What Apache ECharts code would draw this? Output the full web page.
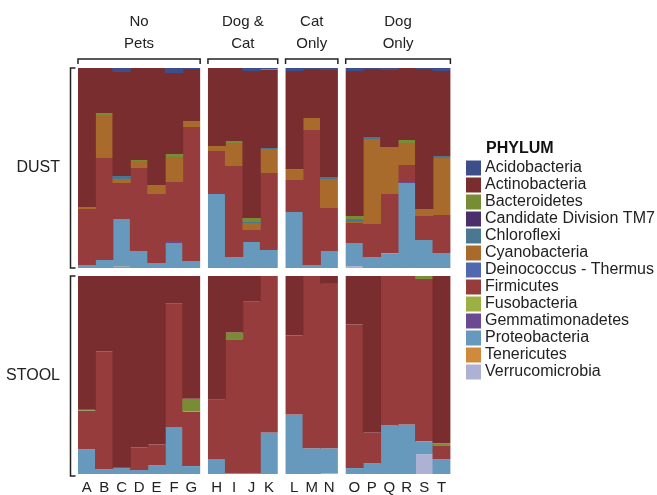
<!DOCTYPE html>
<html><head><meta charset="utf-8">
<script src="https://cdn.jsdelivr.net/npm/echarts@6/dist/echarts.min.js"></script>
<style>html,body{margin:0;padding:0;background:#fff}#c{width:657px;height:495px}</style>
</head><body><div id="c"></div>
<script>
// ---- data ----
const samples = ['A','B','C','D','E','F','G','H','I','J','K','L','M','N','O','P','Q','R','S','T'];
const groupNames = ['No\nPets','Dog &\nCat','Cat\nOnly','Dog\nOnly'];
const groupSizes = [7,4,3,6];
const rowNames = ['DUST','STOOL'];
const phyla = ['Acidobacteria','Actinobacteria','Bacteroidetes','Candidate Division TM7','Chloroflexi','Cyanobacteria','Deinococcus - Thermus','Firmicutes','Fusobacteria','Gemmatimonadetes','Proteobacteria','Tenericutes','Verrucomicrobia'];
const phylaColors = ['#3d4f8a','#7a2d2f','#788c35','#4b2f6b','#4a7893','#a96b2b','#5168b0','#963c3d','#9cb043','#6a4b90','#6699bb','#d08a3b','#adb1d4'];

// DUST (% per sample A..T)
const dustAcidobacteria   = [0,0,2,0,0,2.5,0.5, 0,0,1.5,0.7, 1.5,0.5,1, 1.5,0.5,1,0,0.5,1.5];
const dustActinobacteria  = [69.5,22.5,52,46,58.5,40.5,26, 39,36.5,73.5,39.3, 49,24.5,53.5, 72.5,34,38.5,36,70,42.5];
const dustBacteroidetes   = [0,1,0,0.5,0,1.5,0, 0,1,2,0, 0.5,0,0, 1.5,0,0,1.5,0,0];
const dustTM7             = [0,0,0,0,0,0,0, 0,0,0,0, 0,0,0, 0,0,0,0,0,0];
const dustChloroflexi     = [0,0,1.5,0,0,0,0, 0,0,0.5,0.5, 0,0,1, 1.5,1,0,0,0,1];
const dustCyanobacteria   = [1,21.5,2,3.5,4.5,12.5,3, 2.5,11.5,3.5,12, 5,6,14.5, 0.5,42.5,23.5,11,3.5,28.5];
const dustDeinococcus     = [0,0,0,0,0,0,0, 0,0,0,0, 0,0,0, 0,0,0,0,0,0];
const dustFirmicutes      = [28,51,18,41.5,34.5,29.5,67, 21.5,45.5,6,38.5, 16,67.5,21.5, 10,16.5,29.5,8.5,12,19];
const dustFusobacteria    = [0,0,0,0,0,0,0, 0,0,0,0, 0,0,0, 0,0,0.5,0,0,0];
const dustGemmatimonadetes= [0,0,0,0,0,1,0, 0,0,0,0, 0,0,0, 0,0,0,0.5,0,0];
const dustProteobacteria  = [1.5,4,23.8,8.5,2.5,12.5,3.5, 37,5.5,13,9, 28,1.5,8.5, 11.5,5.5,7,42.5,14,7.5];
const dustTenericutes     = [0,0,0.7,0,0,0,0, 0,0,0,0, 0,0,0, 0,0,0,0,0,0];
const dustVerrucomicrobia = [0,0,0,0,0,0,0, 0,0,0,0, 0,0,0, 1,0,0,0,0,0];

// STOOL
const stoolAcidobacteria   = [0,0,0,0,0,0,0, 0,0,0,0, 0,0,0, 0,0,0,0,0,0];
const stoolActinobacteria  = [67.5,38,96.5,86.5,85,14,62, 62.5,28.5,13,0, 30,0,4, 24.5,79,0,0,0,84.5];
const stoolBacteroidetes   = [0.5,0,0,0,0,0,6.5, 0,3.5,0,0, 0,0,0, 0,0,0,0,1.5,1];
const stoolTM7             = [0,0,0,0,0,0,0, 0,0,0,0, 0,0,0, 0,0,0,0,0,0];
const stoolChloroflexi     = [0,0,0,0,0,0,0, 0,0,0,0, 0,0,0, 0,0,0,0,0,0];
const stoolCyanobacteria   = [0,0,0,0,0,0,0, 0,0,0,0, 0,0,0, 0,0,0,0,0,0];
const stoolDeinococcus     = [0,0,0,0,0,0,0, 0,0,0,0, 0,0,0, 0,0,0,0,0,0];
const stoolFirmicutes      = [19.5,59.5,0.5,11.5,10.5,62.5,27.5, 30,67.5,86.5,79, 40,87,83, 72.5,15.5,75.5,75,82,7];
const stoolFusobacteria    = [0,0,0,0,0,0,0, 0,0,0,0, 0,0,0, 0,0,0,0,0,0];
const stoolGemmatimonadetes= [0,0,0,0,0,0,0, 0,0,0,0, 0,0,0, 0,0,0,0,0,0];
const stoolProteobacteria  = [12.5,2.5,3,2,4.5,23.5,4, 7.5,0.5,0.5,21, 30,13,12.5, 3,5.5,24.5,25,6.5,7.5];
const stoolTenericutes     = [0,0,0,0,0,0,0, 0,0,0,0, 0,0,0, 0,0,0,0,0,0];
const stoolVerrucomicrobia = [0,0,0,0,0,0,0, 0,0,0,0, 0,0,0.5, 0,0,0,0,10,0];

const dustRows = [dustAcidobacteria,dustActinobacteria,dustBacteroidetes,dustTM7,dustChloroflexi,dustCyanobacteria,dustDeinococcus,dustFirmicutes,dustFusobacteria,dustGemmatimonadetes,dustProteobacteria,dustTenericutes,dustVerrucomicrobia];
const stoolRows = [stoolAcidobacteria,stoolActinobacteria,stoolBacteroidetes,stoolTM7,stoolChloroflexi,stoolCyanobacteria,stoolDeinococcus,stoolFirmicutes,stoolFusobacteria,stoolGemmatimonadetes,stoolProteobacteria,stoolTenericutes,stoolVerrucomicrobia];
const rowData = [dustRows, stoolRows];

// ---- layout ----
const FONT = 'Liberation Sans, Arial, Helvetica, sans-serif';
const left0 = 78, barW = 17.45, colGap = 7.8;
const rowTops = [68, 276], rowH = 200;
const colLeft = [], colW = [];
{ let x = left0; groupSizes.forEach(n => { colLeft.push(x); colW.push(n*barW); x += n*barW + colGap; }); }
const starts = []; { let s = 0; groupSizes.forEach(n => { starts.push(s); s += n; }); }

const grids = [], xAxes = [], yAxes = [], series = [];
let gi = 0;
for (let r = 0; r < 2; r++) {
  for (let c = 0; c < 4; c++) {
    grids.push({left: colLeft[c], top: rowTops[r], width: colW[c], height: rowH, containLabel: false});
    const cats = samples.slice(starts[c], starts[c] + groupSizes[c]);
    xAxes.push({type:'category', gridIndex: gi, data: cats,
      axisLine:{show:false}, axisTick:{show:false}, splitLine:{show:false},
      axisLabel:{show: r === 1, margin: 6, fontSize: 15, color:'#222', fontFamily: FONT}});
    yAxes.push({type:'value', gridIndex: gi, min: 0, max: 100, show: false});
    for (let p = phyla.length - 1; p >= 0; p--) {
      series.push({type:'bar', name: phyla[p], xAxisIndex: gi, yAxisIndex: gi, stack: 'g'+gi,
        barWidth: barW + 0.9,
        data: rowData[r][p].slice(starts[c], starts[c] + groupSizes[c]),
        itemStyle: {color: phylaColors[p]}, silent: true});
    }
    gi++;
  }
}

// decorations: brackets and labels, computed from layout constants
const graphics = [];
const lineStyle = {stroke:'#222', lineWidth: 1.5};
for (let c = 0; c < 4; c++) {
  const x1 = colLeft[c], x2 = colLeft[c] + colW[c], y = 59;
  graphics.push({type:'polyline', shape:{points:[[x1,y+5],[x1,y],[x2,y],[x2,y+5]]}, style: lineStyle, silent:true});
  graphics.push({type:'text', x: (x1+x2)/2, y: 33, style:{text: groupNames[c], fill:'#222', font: '15px ' + FONT, align:'center', verticalAlign:'middle', lineHeight: 22}, silent:true});
}
for (let r = 0; r < 2; r++) {
  const y1 = rowTops[r], y2 = rowTops[r] + rowH, x = 70.5;
  graphics.push({type:'polyline', shape:{points:[[x+5,y1],[x,y1],[x,y2],[x+5,y2]]}, style: lineStyle, silent:true});
  graphics.push({type:'text', x: 60, y: (y1+y2)/2, style:{text: rowNames[r], fill:'#222', font: '16px ' + FONT, align:'right', verticalAlign:'middle'}, silent:true});
}
graphics.push({type:'text', x: 486, y: 149, style:{text:'PHYLUM', fill:'#111', font:'bold 16px ' + FONT, align:'left', verticalAlign:'middle'}, silent:true});

const chart = echarts.init(document.getElementById('c'), null, {renderer:'canvas'});
chart.setOption({
  animation: false,
  backgroundColor: '#fff',
  grid: grids, xAxis: xAxes, yAxis: yAxes, series: series,
  legend: {data: phyla, orient:'vertical', left: 466, top: 160, padding: 0,
    itemWidth: 15, itemHeight: 15, itemGap: 1, icon: 'rect', selectedMode: false,
    textStyle:{fontSize: 16, color:'#222', fontFamily: FONT, padding:[0,0,0,-1]}},
  graphic: graphics
});
</script></body></html>
